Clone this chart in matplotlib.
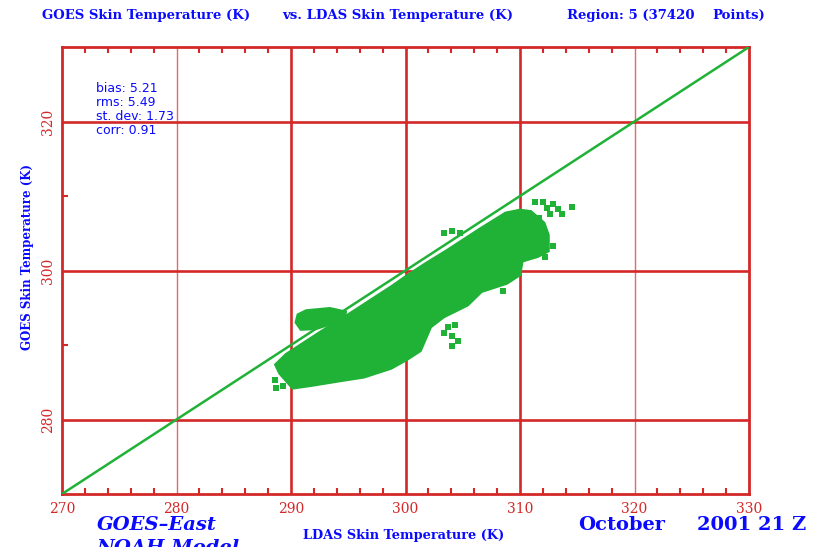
import numpy as np
import matplotlib.pyplot as plt
from matplotlib.ticker import MultipleLocator, FixedLocator

# outline of the dense GOES vs LDAS cloud (LDAS K, GOES K)
cloud_x = [288.5, 289.5, 290.8, 292.5, 294.7, 296.9, 298.8, 300.1, 301.7, 303.6,
           306.5, 308.7, 310.0, 311.0, 312.2, 312.6, 312.6, 311.6, 310.3, 310.1,
           308.9, 306.7, 305.5, 303.4, 302.3, 301.4, 300.2, 298.8, 296.4, 294.3,
           291.9, 290.1, 288.9]
cloud_y = [287.4, 288.9, 290.2, 291.9, 294.0, 296.2, 298.1, 299.5, 301.1, 302.9,
           305.8, 307.9, 308.3, 308.1, 306.5, 304.8, 302.5, 301.7, 301.1, 299.3,
           298.1, 297.0, 295.2, 293.6, 292.3, 289.1, 287.9, 286.7, 285.5, 285.0,
           284.4, 284.0, 286.1]

# smaller cluster lying above the 1:1 line
blob_x = [290.5, 291.3, 293.4, 294.9, 294.8, 293.8, 292.2, 290.8, 290.3]
blob_y = [294.2, 294.8, 295.1, 294.6, 293.4, 292.8, 292.0, 291.9, 293.0]

# isolated points outside the main cloud
pts_x = [311.3, 312.0, 312.9, 313.3, 314.5, 312.6, 311.7, 313.7, 312.4,
         303.7, 304.3, 304.1, 304.6, 304.1, 303.4,
         308.5, 303.4, 304.1, 304.8,
         288.6, 289.3, 288.7,
         312.9, 312.2]
pts_y = [309.2, 309.2, 308.9, 308.3, 308.5, 307.6, 307.0, 307.6, 308.4,
         292.4, 292.7, 291.2, 290.5, 289.9, 291.6,
         297.2, 305.0, 305.3, 305.0,
         285.3, 284.5, 284.2,
         303.3, 301.8]

stats = ['bias: 5.21', 'rms: 5.49', 'st. dev: 1.73', 'corr: 0.91']

x_ticks = [270, 280, 290, 300, 310, 320, 330]
y_ticks = [280, 300, 320]

RED = '#d42828'
LRED = '#e26a6a'
BLUE = '#0a0aff'
GREEN = '#1fb236'
W, H = 819, 547

fig = plt.figure(figsize=(W / 100, H / 100), dpi=100)
ax = fig.add_axes([62 / W, 1 - 494 / H, 687 / W, 447 / H])
ax.set_xlim(270, 330)
ax.set_ylim(270, 330)

# grid: heavy lines at 290/300/310 (x) and 280/300/320 (y), light at 280/320 (x)
for gx in [290, 300, 310]:
    ax.axvline(gx, color=RED, lw=1.9, zorder=1)
for gx in [280, 320]:
    ax.axvline(gx, color=LRED, lw=1.0, zorder=1)
for gy in y_ticks:
    ax.axhline(gy, color=RED, lw=1.9, zorder=1)

ax.plot([270, 330], [270, 330], color=GREEN, lw=1.8, zorder=3)
ax.fill(cloud_x, cloud_y, color=GREEN, lw=0, zorder=2)
ax.fill(blob_x, blob_y, color=GREEN, lw=0, zorder=2)
ax.plot(pts_x, pts_y, 's', color=GREEN, ms=4, mew=0, zorder=2)

for s in ax.spines.values():
    s.set_color(RED)
    s.set_linewidth(2)

ax.xaxis.set_major_locator(FixedLocator(x_ticks))
ax.xaxis.set_minor_locator(MultipleLocator(2))
ax.yaxis.set_major_locator(FixedLocator(y_ticks))
ax.yaxis.set_minor_locator(FixedLocator([290, 310]))
ax.tick_params(axis='x', which='both', direction='in', top=True, color=RED,
               labelcolor=RED, labelsize=10, pad=6)
ax.tick_params(axis='x', which='major', length=0)
ax.tick_params(axis='x', which='minor', length=4, width=1.5)
ax.tick_params(axis='y', which='major', length=0, labelcolor=RED,
               labelsize=10, pad=5)
ax.tick_params(axis='y', which='minor', direction='in', length=4, width=1.5,
               color=RED)
for lab in ax.get_xticklabels() + ax.get_yticklabels():
    lab.set_family('DejaVu Serif')
for lab in ax.get_yticklabels():
    lab.set_rotation(90)
    lab.set_va('center')

for i, s in enumerate(stats):
    ax.text(0.0495, (494 - 88 - 14.3 * i) / 447, s, transform=ax.transAxes,
            color=BLUE, fontsize=9, va='center', ha='left', zorder=4)

title_kw = dict(color=BLUE, fontsize=9.5, fontweight='bold',
                family='DejaVu Serif', va='center', ha='left')
fig.text(42 / W, 1 - 15 / H, 'GOES Skin Temperature (K)', **title_kw)
fig.text(282 / W, 1 - 15 / H, 'vs. LDAS Skin Temperature (K)', **title_kw)
fig.text(567 / W, 1 - 15 / H, 'Region: 5 (37420', **title_kw)
fig.text(712 / W, 1 - 15 / H, 'Points)', **title_kw)

fig.text(404 / W, 1 - 536 / H, 'LDAS Skin Temperature (K)', color=BLUE,
         fontsize=9.3, fontweight='bold', family='DejaVu Serif',
         ha='center', va='center')
fig.text(28 / W, 1 - 257 / H, 'GOES Skin Temperature (K)', color=BLUE,
         fontsize=8.5, fontweight='bold', family='DejaVu Serif',
         ha='center', va='center', rotation=90)

big_kw = dict(color=BLUE, fontsize=14, fontweight='bold',
              family='DejaVu Serif', va='center', ha='left')
fig.text(97 / W, 1 - 525 / H, 'GOES\u2013East', style='italic', **big_kw)
fig.text(97 / W, 1 - 548 / H, 'NOAH Model', style='italic', **big_kw)
fig.text(578 / W, 1 - 525 / H, 'October', **big_kw)
fig.text(697 / W, 1 - 525 / H, '2001 21 Z', **big_kw)

fig.savefig('out.png', dpi=100)
